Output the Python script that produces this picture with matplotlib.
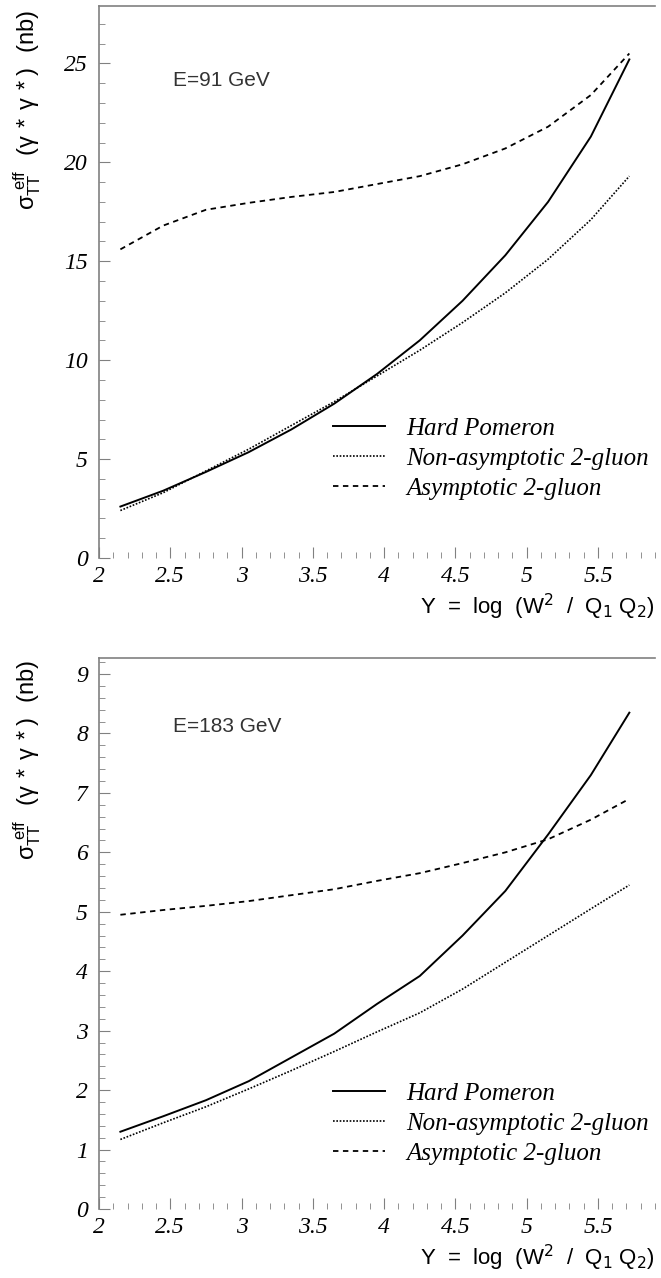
import matplotlib.pyplot as plt
from matplotlib.ticker import MultipleLocator

# Y = log(W^2/Q1Q2) grid shared by all curves
y_vals = [2.15, 2.45, 2.75, 3.05, 3.35, 3.65, 3.95, 4.25, 4.55, 4.85, 5.15, 5.45, 5.72]

# E = 91 GeV
hard_91 = [2.6, 3.4, 4.35, 5.35, 6.5, 7.8, 9.3, 11.0, 13.0, 15.3, 18.0, 21.3, 25.2]
nonasym_91 = [2.4, 3.3, 4.4, 5.5, 6.7, 7.9, 9.2, 10.5, 11.9, 13.4, 15.1, 17.1, 19.3]
asym_91 = [15.6, 16.8, 17.6, 17.95, 18.25, 18.5, 18.9, 19.3, 19.9, 20.7, 21.8, 23.4, 25.5]

# E = 183 GeV
hard_183 = [1.3, 1.56, 1.83, 2.15, 2.55, 2.95, 3.45, 3.92, 4.6, 5.35, 6.3, 7.3, 8.35]
nonasym_183 = [1.17, 1.45, 1.72, 2.02, 2.33, 2.65, 2.98, 3.3, 3.7, 4.15, 4.6, 5.05, 5.45]
asym_183 = [4.95, 5.03, 5.1, 5.18, 5.28, 5.38, 5.52, 5.65, 5.82, 6.0, 6.22, 6.55, 6.9]

labels = ['Hard Pomeron', 'Non-asymptotic 2-gluon', 'Asymptotic 2-gluon']
serif = 'Liberation Serif'
sans = 'Liberation Sans'
W, H = 661, 1278
gray = '#808080'


def make_panel(fig, rect, hard, nonasym, asym, ytop, ymajor, yminor, energy, label_top, text_y, leg_y):
    ax = fig.add_axes(rect)
    ax.plot(y_vals, hard, color='black', lw=1.4, ls='-', label=labels[0])
    ax.plot(y_vals, nonasym, color='black', lw=1.2, ls=(0, (1, 1)), label=labels[1])
    ax.plot(y_vals, asym, color='black', lw=1.3, ls=(0, (3, 2.5)), label=labels[2])
    ax.set_xlim(2, 5.9)
    ax.set_ylim(0, ytop)
    for s in ['right', 'bottom']:
        ax.spines[s].set_visible(False)
    for s in ['top', 'left']:
        ax.spines[s].set_color(gray)
        ax.spines[s].set_linewidth(1.2)
    ax.xaxis.set_major_locator(MultipleLocator(0.5))
    ax.xaxis.set_minor_locator(MultipleLocator(0.1))
    ax.yaxis.set_major_locator(MultipleLocator(ymajor))
    ax.yaxis.set_minor_locator(MultipleLocator(yminor))
    ax.tick_params(which='both', direction='in', color=gray, top=False, right=False)
    ax.tick_params(axis='x', which='major', length=8, pad=6)
    ax.tick_params(axis='x', which='minor', length=4)
    ax.tick_params(axis='y', which='major', length=8, pad=8)
    ax.tick_params(axis='y', which='minor', length=4)
    ax.xaxis.set_major_formatter(plt.FuncFormatter(lambda v, p: ('%g' % v)))
    for t in ax.get_xticklabels() + ax.get_yticklabels():
        t.set_fontfamily(serif)
        t.set_fontstyle('italic')
        t.set_fontsize(17)
    ax.text(0.133, text_y, 'E=%s GeV' % energy,
            transform=ax.transAxes, fontfamily=sans, fontsize=15,
            color='#333333', va='center')
    ax.legend(loc='upper left', bbox_to_anchor=(0.38, leg_y),
              frameon=False, handlelength=2.1, handletextpad=0.85, labelspacing=0.3,
              prop={'family': serif, 'style': 'italic', 'size': 18})
    ax.set_xlabel(r'Y  =  log  (W$^{2}$  /  Q$_{1}$ Q$_{2}$)', fontfamily=sans, fontsize=16,
                  loc='right', labelpad=3)
    fig.text(27 / W, label_top,
             r'$\mathregular{\sigma_{TT}^{\ eff}\ \ (\gamma\,*\,\gamma\,*)\ \ (nb)}$',
             rotation=90, va='top', ha='center', fontsize=17, fontfamily=sans)
    return ax


fig = plt.figure(figsize=(W / 100, H / 100), dpi=100)
left = 99 / W
width = (655 - 99) / W
make_panel(fig, [left, 1 - 558 / H, width, (558 - 6) / H],
           hard_91, nonasym_91, asym_91, 27.9, 5, 1, '91', 1 - 10 / H, 0.865, 0.296)
make_panel(fig, [left, 1 - 1209 / H, width, (1209 - 658) / H],
           hard_183, nonasym_183, asym_183, 9.27, 1, 0.2, '183', 1 - 660 / H, 0.875, 0.27)

fig.savefig('out.png', dpi=100)
